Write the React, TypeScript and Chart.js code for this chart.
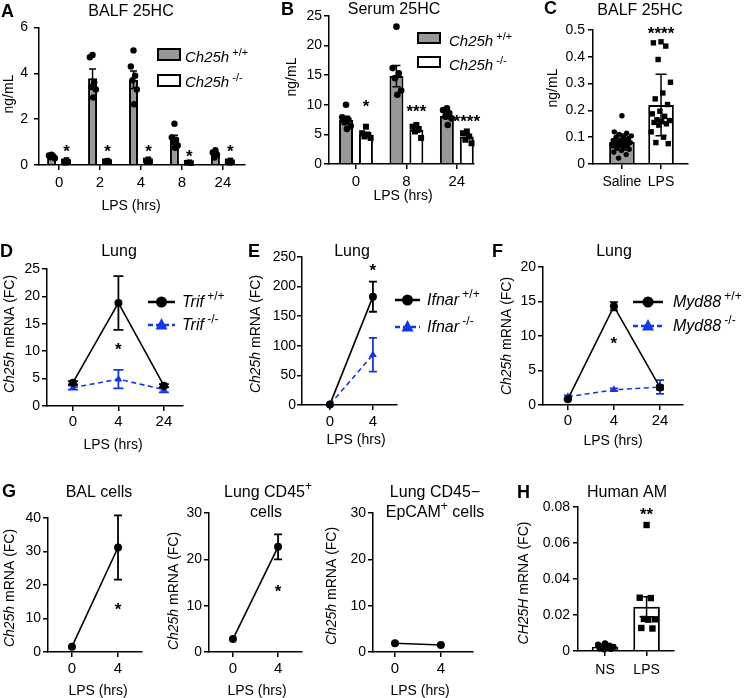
import React, { useEffect, useRef } from 'react';
import { Chart, registerables } from 'chart.js';

Chart.register(...registerables);

const W = 746;
const H = 698;
const FONT = "'Liberation Sans', Arial, Helvetica, sans-serif";
const BLUE = '#1536e6';
const GRAY = '#989898';
const Y_W = 36;
const X_H = 24;

// ---------------- Panel A : BALF 25HC ----------------
const aHours = ['0', '2', '4', '8', '24'];
const aWtMean = [0.38, 3.79, 3.72, 1.15, 0.5];
const aWtSem = [0.03, 0.4, 0.38, 0.15, 0.07];
const aKoMean = [0.16, 0.15, 0.19, 0.1, 0.15];
const aKoSem = [0.03, 0.02, 0.03, 0.01, 0.03];
const aWtPts = [
  [0.45, 0.42, 0.38, 0.34, 0.3],
  [4.8, 4.7, 3.6, 3.4, 3.3, 2.95],
  [5.0, 4.3, 3.9, 3.7, 3.3, 2.65],
  [1.8, 1.2, 1.1, 1.0, 0.85, 0.75],
  [0.65, 0.55, 0.45, 0.33],
];
const aKoPts = [
  [0.22, 0.16, 0.13, 0.1],
  [0.19, 0.16, 0.13, 0.12],
  [0.25, 0.2, 0.16, 0.13],
  [0.12, 0.1, 0.08],
  [0.2, 0.16, 0.12, 0.1],
];
const aStars = ['*', '*', '*', '*', '*'];
const aStarAt = [0.8, 0.8, 0.8, 0.58, 0.8];

// ---------------- Panel B : Serum 25HC ----------------
const bHours = ['0', '8', '24'];
const bWtMean = [7.45, 14.85, 8.15];
const bWtSem = [0.6, 1.8, 0.45];
const bKoMean = [5.0, 5.8, 4.65];
const bKoSem = [0.35, 0.45, 0.35];
const bWtPts = [
  [10.0, 7.9, 7.5, 7.0, 6.4, 5.9],
  [23.2, 16.2, 15.3, 14.5, 12.4, 11.7],
  [9.4, 9.1, 8.6, 8.0, 7.7, 6.6],
];
const bKoPts = [
  [6.3, 5.2, 4.9, 4.65, 4.4],
  [6.6, 6.3, 5.9, 5.5, 4.4],
  [5.5, 5.2, 4.65, 4.1, 3.5],
];
const bStars = ['*', '***', '****'];
const bStarAt = [10.5, 9.6, 8.0];

// ---------------- Panel C : BALF 25HC saline vs LPS ----------------
const cGroups = ['Saline', 'LPS'];
const cMean = [0.082, 0.22];
const cSd = [0.03, 0.115];
const cPts = [
  [0.18, 0.12, 0.115, 0.11, 0.105, 0.1, 0.1, 0.095, 0.09, 0.088, 0.085, 0.082, 0.08,
    0.078, 0.075, 0.072, 0.07, 0.068, 0.065, 0.06, 0.055, 0.05, 0.045, 0.035, 0.022],
  [0.456, 0.452, 0.44, 0.39, 0.305, 0.265, 0.243, 0.222, 0.197, 0.187, 0.178, 0.165,
    0.162, 0.158, 0.155, 0.15, 0.145, 0.12, 0.1, 0.08, 0.076],
];
const cStars = ['', '****'];
const cStarAt = [0, 0.505];

// ---------------- Panel D : Trif ----------------
const dHours = ['0', '4', '24'];
const dWt = [4.25, 18.8, 3.7];
const dWtErr = [0.3, 4.9, 0.3];
const dKo = [3.35, 4.9, 3.0];
const dKoErr = [0.35, 1.7, 0.5];

// ---------------- Panel E : Ifnar ----------------
const eHours = ['0', '4'];
const eWt = [1, 183];
const eWtErr = [0, 25.5];
const eKo = [1, 85];
const eKoErr = [0, 28.5];

// ---------------- Panel F : Myd88 ----------------
const fHours = ['0', '4', '24'];
const fWt = [0.85, 14.3, 2.55];
const fWtErr = [0.1, 0.6, 0.3];
const fKo = [1.2, 2.2, 2.6];
const fKoErr = [0.2, 0.2, 1.0];

// ---------------- Panel G : cell types ----------------
const gHours = ['0', '4'];
const gBal = [1.6, 31.2];
const gBalErr = [0, 9.6];
const gCd45 = [2.8, 22.7];
const gCd45Err = [0, 2.7];
const gEpcam = [1.9, 1.5];
const gEpcamErr = [0, 0];

// ---------------- Panel H : Human AM ----------------
const hGroups = ['NS', 'LPS'];
const hMean = [0.0024, 0.0246];
const hSem = [0.0004, 0.0056];
const hPts = [
  [0.0042, 0.0035, 0.003, 0.0026, 0.0022, 0.0018, 0.0015, 0.0012, 0.001],
  [0.07, 0.0296, 0.0294, 0.0178, 0.0176, 0.0174, 0.0128, 0.0125],
];
const hStars = ['', '**'];
const hStarAt = [0, 0.0783];

// ================= helpers =================
type Seg = { t: string; it?: boolean; sup?: boolean; b?: boolean };
const S = (t: string, o: any = {}): Seg => ({ t, ...o });
type TextItem = { segs: Seg[]; x: number; y: number; size: number; align?: string; rot?: boolean };
const T = (segs: Seg[], x: number, y: number, size: number, align = 'center', rot = false): TextItem => ({ segs, x, y, size, align, rot });

function fontFor(sg: Seg, size: number) {
  const s = sg.sup ? Math.round(size * 0.72) : size;
  return `${sg.it ? 'italic ' : ''}${sg.b ? 'bold ' : ''}${s}px ${FONT}`;
}
function drawRich(ctx: any, segs: Seg[], x: number, y: number, size: number, align: string) {
  let w = 0;
  for (const sg of segs) { ctx.font = fontFor(sg, size); w += ctx.measureText(sg.t).width; }
  let cx = align === 'center' ? x - w / 2 : align === 'right' ? x - w : x;
  ctx.textAlign = 'left';
  ctx.textBaseline = 'alphabetic';
  ctx.fillStyle = '#000';
  for (const sg of segs) {
    ctx.font = fontFor(sg, size);
    ctx.fillText(sg.t, cx, sg.sup ? y - size * 0.42 : y);
    cx += ctx.measureText(sg.t).width;
  }
}
function drawText(ctx: any, it: TextItem) {
  if (it.rot) {
    ctx.save();
    ctx.translate(it.x, it.y);
    ctx.rotate(-Math.PI / 2);
    drawRich(ctx, it.segs, 0, it.size * 0.36, it.size, 'center');
    ctx.restore();
  } else {
    drawRich(ctx, it.segs, it.x, it.y, it.size, it.align || 'center');
  }
}
function marker(ctx: any, shape: string, x: number, y: number, r: number, color: string) {
  ctx.fillStyle = color;
  ctx.beginPath();
  if (shape === 'rect') ctx.rect(x - r, y - r, 2 * r, 2 * r);
  else if (shape === 'triangle') {
    ctx.moveTo(x, y - r * 1.15);
    ctx.lineTo(x + r, y + r * 0.75);
    ctx.lineTo(x - r, y + r * 0.75);
    ctx.closePath();
  } else ctx.arc(x, y, r, 0, Math.PI * 2);
  ctx.fill();
}
function errBar(ctx: any, x: number, yTop: number, yBot: number, cap: number, color: string, lw: number) {
  ctx.save();
  ctx.strokeStyle = color;
  ctx.lineWidth = lw;
  ctx.setLineDash([]);
  ctx.beginPath();
  ctx.moveTo(x, yTop); ctx.lineTo(x, yBot);
  ctx.moveTo(x - cap / 2, yTop); ctx.lineTo(x + cap / 2, yTop);
  ctx.moveTo(x - cap / 2, yBot); ctx.lineTo(x + cap / 2, yBot);
  ctx.stroke();
  ctx.restore();
}
function drawStar(ctx: any, t: string, x: number, py: number) {
  ctx.font = `bold 17px ${FONT}`;
  ctx.textAlign = 'center';
  ctx.textBaseline = 'alphabetic';
  ctx.fillStyle = '#000';
  ctx.fillText(t, x, py + 10);
}
function jit(k: number, n: number) {
  if (n <= 1) return 0;
  return ((k * 0.618034 + 0.5) % 1) * 2 - 1;
}

type Sym =
  | { kind: 'box'; fill: string; x: number; y: number; w: number; h: number }
  | { kind: 'line'; color: string; dash: number[]; shape: string; x1: number; x2: number; y: number; r: number };
type Deco = { texts: TextItem[]; syms?: Sym[] };

function decoPlugin(d: Deco) {
  return {
    id: 'deco',
    afterDraw(chart: any) {
      const ctx = chart.ctx;
      ctx.save();
      for (const s of d.syms || []) {
        if (s.kind === 'box') {
          ctx.fillStyle = s.fill;
          ctx.fillRect(s.x, s.y, s.w, s.h);
          ctx.strokeStyle = '#000';
          ctx.lineWidth = 2;
          ctx.strokeRect(s.x, s.y, s.w, s.h);
        } else {
          ctx.strokeStyle = s.color;
          ctx.lineWidth = 2.5;
          ctx.setLineDash(s.dash);
          ctx.beginPath();
          ctx.moveTo(s.x1, s.y);
          ctx.lineTo(s.x2, s.y);
          ctx.stroke();
          ctx.setLineDash([]);
          marker(ctx, s.shape, (s.x1 + s.x2) / 2, s.y, s.r, s.color);
        }
      }
      for (const t of d.texts) drawText(ctx, t);
      ctx.restore();
    },
  };
}

type Geo = { ax: number; top: number; bottom: number; xEnd: number };

function baseOptions(geo: Geo) {
  return {
    responsive: false,
    maintainAspectRatio: false,
    animation: false,
    devicePixelRatio: 1,
    events: [],
    layout: { padding: { left: geo.ax - Y_W, top: geo.top, right: W - geo.xEnd, bottom: H - geo.bottom - X_H } },
    plugins: { legend: { display: false }, tooltip: { enabled: false }, title: { display: false } },
  };
}

function axes(labels: string[], xMin: number, xMax: number, xPad: number, yMax: number, yStep: number, yPad: number, xFont = 15) {
  const grid = { display: true, drawOnChartArea: false, drawTicks: true, tickLength: 5, color: '#000', lineWidth: 1.5, offset: false };
  const border = { display: true, color: '#000', width: 1.5 };
  return {
    x: {
      type: 'linear',
      min: xMin,
      max: xMax,
      offset: false,
      afterBuildTicks: (s: any) => { s.ticks = labels.map((_, i) => ({ value: i })); },
      afterFit: (s: any) => { s.height = X_H; },
      ticks: {
        font: { family: FONT, size: xFont }, color: '#000', padding: xPad, maxRotation: 0, autoSkip: false,
        callback: (v: any) => labels[Math.round(Number(v))] ?? '',
      },
      grid, border,
    },
    y: {
      type: 'linear',
      min: 0,
      max: yMax,
      afterFit: (s: any) => { s.width = Y_W; },
      ticks: {
        stepSize: yStep, font: { family: FONT, size: 14 }, color: '#000', padding: yPad,
        callback: (v: any) => String(+Number(v).toFixed(4)),
      },
      grid, border,
    },
  };
}

type BarGroup = { mean: number[]; err: number[]; pts: number[][]; fill: any; shape: any; r: number };
type BarSpec = {
  geo: Geo; labels: string[]; xMin: number; xMax: number; xPad: number; xFont?: number;
  yMax: number; yStep: number; yPad: number; catPct: number; barPct: number;
  cap: number; spread: number; groups: BarGroup[];
  stars: { ds: number; txt: string[]; at: number[] }; deco: Deco;
};

function barConfig(s: BarSpec): any {
  return {
    type: 'bar',
    data: {
      datasets: s.groups.map((g) => ({
        data: g.mean.map((v, i) => ({ x: i, y: v })),
        backgroundColor: g.fill,
        borderColor: '#000',
        borderWidth: 2,
        categoryPercentage: s.catPct,
        barPercentage: s.barPct,
      })),
    },
    options: {
      ...baseOptions(s.geo),
      scales: axes(s.labels, s.xMin, s.xMax, s.xPad, s.yMax, s.yStep, s.yPad, s.xFont ?? 15),
    },
    plugins: [
      {
        id: 'barMarks',
        afterDatasetsDraw(chart: any) {
          const ctx = chart.ctx;
          const ys = chart.scales.y;
          ctx.save();
          s.groups.forEach((g, d) => {
            const meta = chart.getDatasetMeta(d);
            meta.data.forEach((el: any, i: number) => {
              const x = el.x;
              if (g.err[i] > 0) {
                errBar(ctx, x, ys.getPixelForValue(g.mean[i] + g.err[i]),
                  ys.getPixelForValue(Math.max(0, g.mean[i] - g.err[i])), s.cap, '#000', 1.5);
              }
              const pts = g.pts[i] || [];
              const shape = Array.isArray(g.shape) ? g.shape[i] : g.shape;
              pts.forEach((v, k) => {
                marker(ctx, shape, x + jit(k, pts.length) * s.spread, ys.getPixelForValue(v), g.r, '#000');
              });
            });
          });
          const sm = chart.getDatasetMeta(s.stars.ds);
          s.stars.txt.forEach((t, i) => {
            if (t) drawStar(ctx, t, sm.data[i].x, ys.getPixelForValue(s.stars.at[i]));
          });
          ctx.restore();
        },
      },
      decoPlugin(s.deco),
    ],
  };
}

type LineSeries = { vals: number[]; err: number[]; color: string; dash: number[]; shape: string; r: number };
type LineSpec = {
  geo: Geo; labels: string[]; xMin: number; xMax: number; xPad: number;
  yMax: number; yStep: number; yPad: number; cap: number; series: LineSeries[];
  stars: { idx: number; at: number; txt: string }[]; deco: Deco;
};

function lineConfig(s: LineSpec): any {
  return {
    type: 'line',
    data: {
      datasets: s.series.map((se) => ({
        data: se.vals.map((v, i) => ({ x: i, y: v })),
        borderColor: se.color,
        borderWidth: 1.6,
        borderDash: se.dash,
        pointStyle: se.shape,
        pointRadius: se.r,
        pointBackgroundColor: se.color,
        pointBorderColor: se.color,
        pointBorderWidth: 0,
        fill: false,
        tension: 0,
        clip: false,
      })),
    },
    options: {
      ...baseOptions(s.geo),
      scales: axes(s.labels, s.xMin, s.xMax, s.xPad, s.yMax, s.yStep, s.yPad),
    },
    plugins: [
      {
        id: 'lineMarks',
        beforeDatasetsDraw(chart: any) {
          const ctx = chart.ctx;
          const ys = chart.scales.y;
          const xs = chart.scales.x;
          for (let d = s.series.length - 1; d >= 0; d--) {
            const se = s.series[d];
            se.vals.forEach((v, i) => {
              if (se.err[i] > 0) {
                errBar(ctx, xs.getPixelForValue(i), ys.getPixelForValue(v + se.err[i]),
                  ys.getPixelForValue(Math.max(0, v - se.err[i])), s.cap, se.color, 1.8);
              }
            });
          }
        },
        afterDatasetsDraw(chart: any) {
          const ctx = chart.ctx;
          ctx.save();
          for (const st of s.stars) {
            drawStar(ctx, st.txt, chart.scales.x.getPixelForValue(st.idx), chart.scales.y.getPixelForValue(st.at));
          }
          ctx.restore();
        },
      },
      decoPlugin(s.deco),
    ],
  };
}

const yFc = (gene: string): Seg[] => [S(gene, { it: true }), S(' mRNA (FC)')];
const lps = (x: number, y: number) => T([S('LPS (hrs)')], x, y, 14);
const letter = (t: string, x: number, y: number) => T([S(t, { b: true })], x, y, 18, 'left');

// ================= panel configs =================
const panelA = () => barConfig({
  geo: { ax: 39, top: 27.5, bottom: 165, xEnd: 245 },
  labels: aHours, xMin: -0.49, xMax: 4.54, xPad: 4,
  yMax: 6, yStep: 2, yPad: 6, catPct: 0.73, barPct: 0.6, cap: 7, spread: 3.5,
  groups: [
    { mean: aWtMean, err: aWtSem, pts: aWtPts, fill: GRAY, shape: 'circle', r: 3.2 },
    { mean: aKoMean, err: aKoSem, pts: aKoPts, fill: '#fff', shape: 'rect', r: 2.8 },
  ],
  stars: { ds: 1, txt: aStars, at: aStarAt },
  deco: {
    texts: [
      letter('A', 1, 17),
      T([S('BALF 25HC')], 131, 16, 16),
      T([S('ng/mL')], 8, 94, 14, 'center', true),
      lps(131, 210),
      T([S('Ch25h', { it: true }), S(' +/+', { sup: true })], 185, 62, 15, 'left'),
      T([S('Ch25h', { it: true }), S(' -/-', { sup: true })], 185, 87, 15, 'left'),
    ],
    syms: [
      { kind: 'box', fill: GRAY, x: 158, y: 49, w: 22, h: 11 },
      { kind: 'box', fill: '#fff', x: 158, y: 75, w: 22, h: 11 },
    ],
  },
});

const panelB = () => barConfig({
  geo: { ax: 329, top: 16, bottom: 164, xEnd: 474 },
  labels: bHours, xMin: -0.535, xMax: 2.34, xPad: 4,
  yMax: 25, yStep: 5, yPad: 2, catPct: 0.79, barPct: 0.7, cap: 8, spread: 5,
  groups: [
    { mean: bWtMean, err: bWtSem, pts: bWtPts, fill: GRAY, shape: 'circle', r: 3.3 },
    { mean: bKoMean, err: bKoSem, pts: bKoPts, fill: '#fff', shape: 'rect', r: 3 },
  ],
  stars: { ds: 1, txt: bStars, at: bStarAt },
  deco: {
    texts: [
      letter('B', 281, 15),
      T([S('Serum 25HC')], 394, 14, 16),
      T([S('ng/mL')], 291, 77, 14, 'center', true),
      lps(403, 200),
      T([S('Ch25h', { it: true }), S(' +/+', { sup: true })], 449, 46, 15, 'left'),
      T([S('Ch25h', { it: true }), S(' -/-', { sup: true })], 449, 70, 15, 'left'),
    ],
    syms: [
      { kind: 'box', fill: GRAY, x: 418, y: 33, w: 22, h: 10 },
      { kind: 'box', fill: '#fff', x: 418, y: 57, w: 22, h: 10 },
    ],
  },
});

const panelC = () => barConfig({
  geo: { ax: 593, top: 30, bottom: 164, xEnd: 688 },
  labels: cGroups, xMin: -0.74, xMax: 1.69, xPad: 5, xFont: 14,
  yMax: 0.5, yStep: 0.1, yPad: 3, catPct: 1, barPct: 0.655, cap: 11, spread: 10,
  groups: [
    { mean: cMean, err: cSd, pts: cPts, fill: [GRAY, '#fff'], shape: ['circle', 'rect'], r: 2.7 },
  ],
  stars: { ds: 0, txt: cStars, at: cStarAt },
  deco: {
    texts: [
      letter('C', 544, 14),
      T([S('BALF 25HC')], 640, 15, 16),
      T([S('ng/mL')], 552, 88, 14, 'center', true),
    ],
  },
});

const panelH = () => barConfig({
  geo: { ax: 578, top: 507, bottom: 651, xEnd: 674 },
  labels: hGroups, xMin: -0.65, xMax: 1.66, xPad: 6, xFont: 14,
  yMax: 0.08, yStep: 0.02, yPad: 3, catPct: 1, barPct: 0.64, cap: 14, spread: 9,
  groups: [
    { mean: hMean, err: hSem, pts: hPts, fill: ['#fff', '#fff'], shape: ['circle', 'rect'], r: 3.2 },
  ],
  stars: { ds: 0, txt: hStars, at: hStarAt },
  deco: {
    texts: [
      letter('H', 517, 498),
      T([S('Human AM')], 627, 497, 16),
      T(yFc('CH25H'), 523, 583, 14, 'center', true),
    ],
  },
});

const wtSeries = (vals: number[], err: number[]): LineSeries => ({ vals, err, color: '#000', dash: [], shape: 'circle', r: 4 });
const koSeries = (vals: number[], err: number[]): LineSeries => ({ vals, err, color: BLUE, dash: [5, 3.5], shape: 'triangle', r: 4.5 });

const lineLegend = (gene: string, x1: number, x2: number, tx: number, y1: number, y2: number): { texts: TextItem[]; syms: Sym[] } => ({
  texts: [
    T([S(gene, { it: true }), S(' +/+', { sup: true })], tx, y1 + 5, 16, 'left'),
    T([S(gene, { it: true }), S(' -/-', { sup: true })], tx, y2 + 5, 16, 'left'),
  ],
  syms: [
    { kind: 'line', color: '#000', dash: [], shape: 'circle', x1, x2, y: y1, r: 5.5 },
    { kind: 'line', color: BLUE, dash: [5, 3], shape: 'triangle', x1, x2, y: y2, r: 6 },
  ],
});

const panelD = () => {
  const lg = lineLegend('Trif', 148, 175, 182, 302, 325);
  return lineConfig({
    geo: { ax: 47, top: 269, bottom: 406, xEnd: 183 },
    labels: dHours, xMin: -0.57, xMax: 2.42, xPad: 2,
    yMax: 25, yStep: 5, yPad: 2, cap: 10,
    series: [wtSeries(dWt, dWtErr), koSeries(dKo, dKoErr)],
    stars: [{ idx: 1, at: 11.1, txt: '*' }],
    deco: {
      texts: [letter('D', 0, 257), T([S('Lung')], 119, 256, 16), T(yFc('Ch25h'), 9, 334, 14, 'center', true), lps(113, 449), ...lg.texts],
      syms: lg.syms,
    },
  });
};

const panelE = () => {
  const lg = lineLegend('Ifnar', 395, 420, 427, 300, 327);
  return lineConfig({
    geo: { ax: 302, top: 257, bottom: 405, xEnd: 397 },
    labels: eHours, xMin: -0.65, xMax: 1.56, xPad: 3,
    yMax: 250, yStep: 50, yPad: 1, cap: 8,
    series: [wtSeries(eWt, eWtErr), koSeries(eKo, eKoErr)],
    stars: [{ idx: 1, at: 235, txt: '*' }],
    deco: {
      texts: [letter('E', 248, 257), T([S('Lung')], 352, 256, 16), T(yFc('Ch25h'), 255, 334, 14, 'center', true), lps(356, 444), ...lg.texts],
      syms: lg.syms,
    },
  });
};

const panelF = () => {
  const lg = lineLegend('Myd88', 633, 663, 673, 302, 326);
  return lineConfig({
    geo: { ax: 543, top: 267, bottom: 405, xEnd: 683 },
    labels: fHours, xMin: -0.54, xMax: 2.5, xPad: 2,
    yMax: 20, yStep: 5, yPad: 2, cap: 8,
    series: [wtSeries(fWt, fWtErr), koSeries(fKo, fKoErr)],
    stars: [{ idx: 1, at: 9.6, txt: '*' }],
    deco: {
      texts: [letter('F', 492, 257), T([S('Lung')], 614, 256, 16), T(yFc('Ch25h'), 506, 336, 14, 'center', true), lps(613, 445), ...lg.texts],
      syms: lg.syms,
    },
  });
};

const panelG1 = () => lineConfig({
  geo: { ax: 48, top: 518, bottom: 652, xEnd: 142 },
  labels: gHours, xMin: -0.52, xMax: 1.52, xPad: 2.5,
  yMax: 40, yStep: 10, yPad: 2, cap: 8,
  series: [wtSeries(gBal, gBalErr)],
  stars: [{ idx: 1, at: 14, txt: '*' }],
  deco: {
    texts: [letter('G', 2, 497), T([S('BAL cells')], 99, 497, 16), T(yFc('Ch25h'), 9, 588, 14, 'center', true), lps(98, 695)],
  },
});

const panelG2 = () => lineConfig({
  geo: { ax: 209, top: 513, bottom: 652, xEnd: 302 },
  labels: gHours, xMin: -0.53, xMax: 1.53, xPad: 2.5,
  yMax: 30, yStep: 10, yPad: 2, cap: 8,
  series: [wtSeries(gCd45, gCd45Err)],
  stars: [{ idx: 1, at: 14, txt: '*' }],
  deco: {
    texts: [
      T([S('Lung CD45'), S('+', { sup: true })], 268, 497, 16),
      T([S('cells')], 266, 517, 16),
      T(yFc('Ch25h'), 173, 591, 14, 'center', true),
      lps(257, 695),
    ],
  },
});

const panelG3 = () => lineConfig({
  geo: { ax: 373, top: 513, bottom: 652, xEnd: 473 },
  labels: gHours, xMin: -0.48, xMax: 1.7, xPad: 2.5,
  yMax: 30, yStep: 10, yPad: 2, cap: 8,
  series: [wtSeries(gEpcam, gEpcamErr)],
  stars: [],
  deco: {
    texts: [
      T([S('Lung CD45\u2212')], 435, 497, 16),
      T([S('EpCAM'), S('+', { sup: true }), S(' cells')], 435, 517, 16),
      T(yFc('Ch25h'), 331, 586, 14, 'center', true),
      lps(420, 695),
    ],
  },
});

function ChartCanvas({ make }: { make: () => any }) {
  const ref = useRef<HTMLCanvasElement | null>(null);
  useEffect(() => {
    if (!ref.current) return;
    const chart = new Chart(ref.current, make());
    return () => chart.destroy();
  }, []);
  return (
    <canvas
      ref={ref}
      width={W}
      height={H}
      style={{ position: 'absolute', left: 0, top: 0, width: W, height: H, pointerEvents: 'none' }}
    />
  );
}

export default function App() {
  const panels = [panelA, panelB, panelC, panelD, panelE, panelF, panelG1, panelG2, panelG3, panelH];
  return (
    <div style={{ position: 'absolute', left: 0, top: 0, width: W, height: H, background: '#fff', overflow: 'hidden' }}>
      {panels.map((p, i) => (
        <ChartCanvas key={i} make={p} />
      ))}
    </div>
  );
}
